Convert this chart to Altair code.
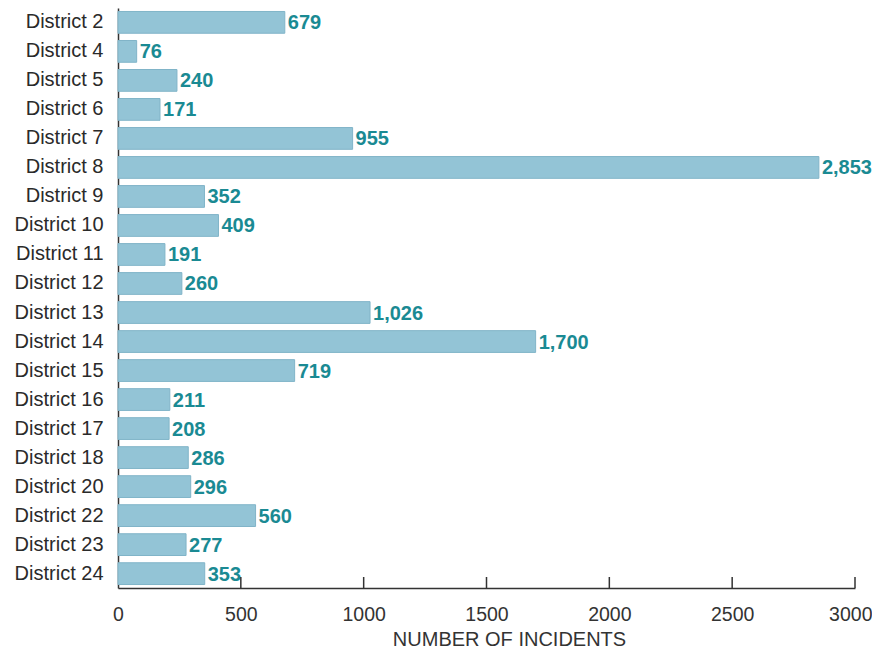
import altair as alt
import pandas as pd

districts = ["District 2", "District 4", "District 5", "District 6", "District 7",
             "District 8", "District 9", "District 10", "District 11", "District 12",
             "District 13", "District 14", "District 15", "District 16", "District 17",
             "District 18", "District 20", "District 22", "District 23", "District 24"]
incidents = [679, 76, 240, 171, 955, 2853, 352, 409, 191, 260,
             1026, 1700, 719, 211, 208, 286, 296, 560, 277, 353]
tick_values = [500, 1000, 1500, 2000, 2500, 3000]
axis_labels = [0, 500, 1000, 1500, 2000, 2500, 3000]

df = pd.DataFrame({"district": districts, "incidents": incidents})
ticks_df = pd.DataFrame({"t": tick_values})

W, H = 737, 580
FONT = "Liberation Sans"

xscale = alt.Scale(domain=[0, 3000], nice=False, zero=True)
ysort = districts

base = alt.Chart(df)

bars = base.mark_bar(color="#93c4d6", stroke="#80b4c8", strokeWidth=1).encode(
    y=alt.Y("district:N", sort=ysort,
            scale=alt.Scale(paddingInner=0.25, paddingOuter=0.12),
            axis=alt.Axis(title=None, ticks=False, labelPadding=15, labelFontSize=20,
                          labelColor="#2a2a2a", labelFont=FONT, domainColor="#333",
                          domainWidth=1.5, grid=False)),
    x=alt.X("incidents:Q", scale=xscale,
            axis=alt.Axis(title="NUMBER OF INCIDENTS", values=axis_labels,
                          format="d", ticks=False, labelPadding=17, labelFontSize=19.5,
                          labelFlush=False, labelOverlap=False,
                          labelAlign={"condition": {"test": "datum.value === 3000", "value": "right"},
                                      "value": "center"},
                          labelOffset={"condition": {"test": "datum.value === 3000", "value": 17},
                                       "value": 0},
                          labelColor="#333", labelFont=FONT, titleFont=FONT,
                          titleFontSize=20, titleFontWeight="normal", titleColor="#333",
                          titlePadding=6, titleX=391, domainColor="#333", domainWidth=1.5,
                          grid=False)),
)

labels = base.mark_text(align="left", baseline="middle", dx=3, dy=1, fontSize=20,
                        fontWeight="bold", color="#1a8a93", font=FONT).encode(
    y=alt.Y("district:N", sort=ysort),
    x=alt.X("incidents:Q", scale=xscale),
    text=alt.Text("incidents:Q", format=","),
)

tick_marks = alt.Chart(ticks_df).mark_rule(color="#333", strokeWidth=1.5).encode(
    x=alt.X("t:Q", scale=xscale),
    y=alt.value(H - 11),
    y2=alt.value(H),
)

chart = alt.layer(bars, labels, tick_marks).properties(
    width=W, height=H,
    background="white",
    autosize=alt.AutoSizeParams(type="none"),
    padding={"left": 110, "top": 0, "right": 17, "bottom": 68},
).configure_view(strokeWidth=0, stroke="transparent").configure_axis(grid=False)

chart.save("out.html", embed_options={"renderer": "svg", "actions": False})
